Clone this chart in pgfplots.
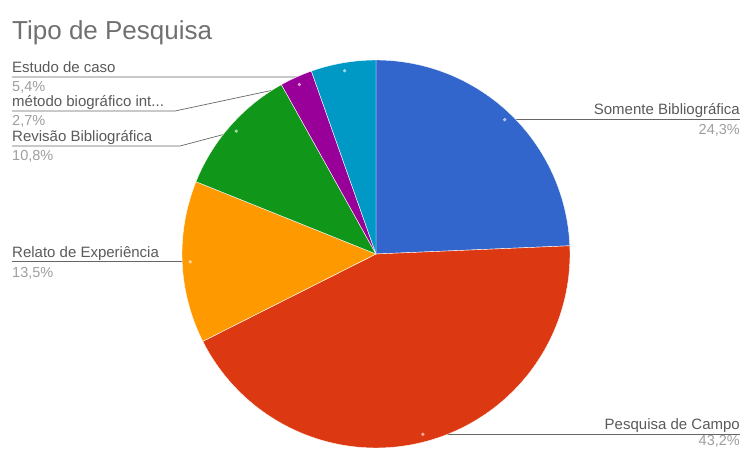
\documentclass[border=0pt]{standalone}
\usepackage{pgfplots}
\pgfplotsset{compat=1.18}
\usepackage{fontspec}
\setmainfont{Liberation Sans}
\definecolor{cA}{HTML}{3366CC}
\definecolor{cB}{HTML}{DC3912}
\definecolor{cC}{HTML}{FF9900}
\definecolor{cD}{HTML}{109618}
\definecolor{cE}{HTML}{990099}
\definecolor{cF}{HTML}{0099C6}
\definecolor{labc}{HTML}{5A5A5A}
\definecolor{pctc}{HTML}{9E9E9E}
\definecolor{titc}{HTML}{707070}
\definecolor{linec}{HTML}{666666}
% slice values (percent)
\def\vA{24.3}\def\vB{43.2}\def\vC{13.5}\def\vD{10.8}\def\vE{2.7}\def\vF{5.4}
\pgfmathsetmacro\tot{\vA+\vB+\vC+\vD+\vE+\vF}
\pgfmathsetmacro\bZ{90}
\pgfmathsetmacro\bA{\bZ-360*\vA/\tot}
\pgfmathsetmacro\bB{\bA-360*\vB/\tot}
\pgfmathsetmacro\bC{\bB-360*\vC/\tot}
\pgfmathsetmacro\bD{\bC-360*\vD/\tot}
\pgfmathsetmacro\bE{\bD-360*\vE/\tot}
\pgfmathsetmacro\bF{\bE-360*\vF/\tot}
\def\cx{376}\def\cy{194}\def\R{194}
\newcommand{\slice}[3]{%
  \addplot[fill=#3, draw=white, line width=0.4pt, domain=#1:#2, samples=90, variable=\t]
    ({\cx+\R*cos(\t)},{\cy+\R*sin(\t)}) -- (axis cs:\cx,\cy) -- cycle;}
\newcommand{\lab}{\fontsize{15}{17}\selectfont\color{labc}}
\newcommand{\pct}{\fontsize{14.5}{17}\selectfont\color{pctc}}
\begin{document}
\begin{tikzpicture}
\begin{axis}[hide axis, scale only axis, width=745pt, height=448pt,
  xmin=0, xmax=745, ymin=0, ymax=448]
% leader lines
\addplot[linec, line width=0.7pt, no marks] coordinates {(504.7,328.3) (740,328.3)};
\addplot[linec, line width=0.7pt, no marks] coordinates {(422.9,13.7) (740,13.7)};
\addplot[linec, line width=0.7pt, no marks] coordinates {(12,186.2) (190.2,186.2)};
\addplot[linec, line width=0.7pt, no marks] coordinates {(12,302) (180,302) (236.3,316.9)};
\addplot[linec, line width=0.7pt, no marks] coordinates {(12,337) (175,337) (299.4,363.5)};
\addplot[linec, line width=0.7pt, no marks] coordinates {(12,371) (300,371) (344.6,377.3)};
% pie
\slice{\bA}{\bZ}{cA}
\slice{\bB}{\bA}{cB}
\slice{\bC}{\bB}{cC}
\slice{\bD}{\bC}{cD}
\slice{\bE}{\bD}{cE}
\slice{\bF}{\bE}{cF}
% dots
\addplot[only marks, color=white, opacity=0.55, mark=*, mark size=1.5pt, mark options={draw=white, fill=white}]
  coordinates {(504.7,328.3) (422.9,13.7) (190.2,186.2) (236.3,316.9) (299.4,363.5) (344.6,377.3)};
% texts
\node[anchor=base west, inner sep=0] at (axis cs:12,408) {\fontsize{26}{30}\selectfont\color{titc}Tipo de Pesquisa};
\node[anchor=base east, inner sep=0] at (axis cs:740,333) {\lab Somente Bibliográfica};
\node[anchor=base east, inner sep=0] at (axis cs:740,313) {\pct 24,3\%};
\node[anchor=base east, inner sep=0] at (axis cs:740,18.5) {\lab Pesquisa de Campo};
\node[anchor=base east, inner sep=0] at (axis cs:740,2.5) {\pct 43,2\%};
\node[anchor=base west, inner sep=0] at (axis cs:12,191) {\lab Relato de Experiência};
\node[anchor=base west, inner sep=0] at (axis cs:12,171) {\pct 13,5\%};
\node[anchor=base west, inner sep=0] at (axis cs:12,306.5) {\lab Revisão Bibliográfica};
\node[anchor=base west, inner sep=0] at (axis cs:12,287) {\pct 10,8\%};
\node[anchor=base west, inner sep=0] at (axis cs:12,341.5) {\lab método biográfico int...};
\node[anchor=base west, inner sep=0] at (axis cs:12,322) {\pct 2,7\%};
\node[anchor=base west, inner sep=0] at (axis cs:12,375.5) {\lab Estudo de caso};
\node[anchor=base west, inner sep=0] at (axis cs:12,356) {\pct 5,4\%};
\end{axis}
\pgfresetboundingbox
\path (current axis.south west) rectangle (current axis.north east);
\end{tikzpicture}
\end{document}
